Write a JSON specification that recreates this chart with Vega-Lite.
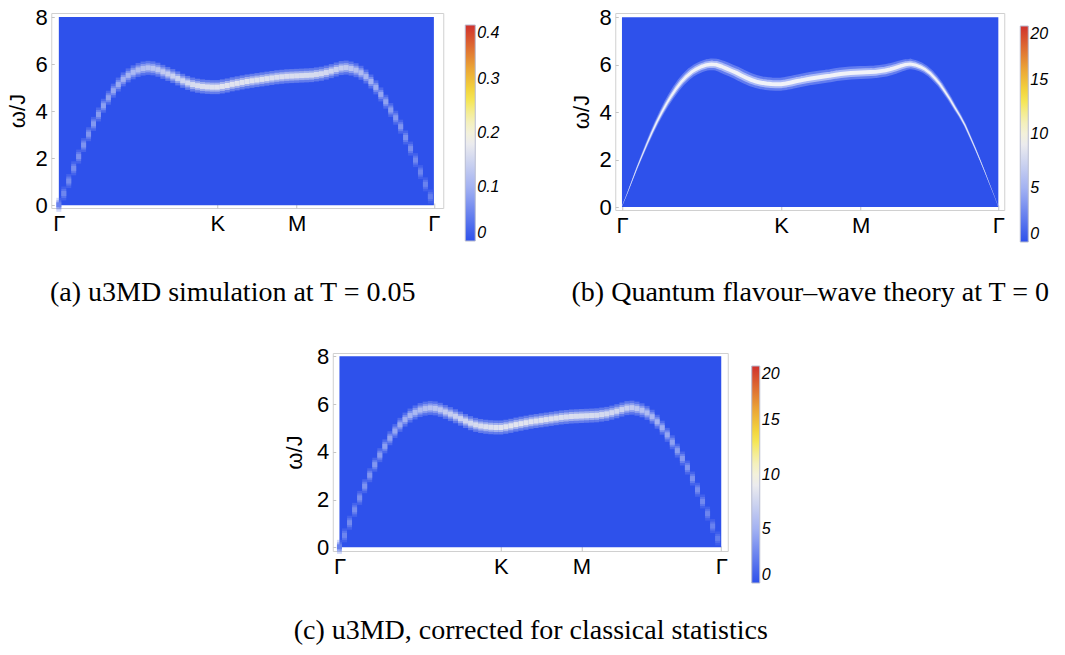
{
  "$schema": "https://vega.github.io/schema/vega-lite/v6.json",
  "padding": {"left": 5, "top": 5, "right": 0, "bottom": 0},
  "background": "white",
  "config": {
    "view": {"stroke": "#d0d0d0", "strokeWidth": 1},
    "axis": {"labelFont": "Liberation Sans", "labelFontSize": 22, "labelColor": "#000", "titleFont": "Liberation Sans", "titleFontSize": 22, "titleFontWeight": "normal", "titleColor": "#000", "tickColor": "#c4c4c4", "domain": false, "grid": false, "labelFlush": false, "labelOverlap": false},
    "axisX": {"titleFont": "Liberation Serif", "titleFontSize": 28, "titleFontWeight": "normal"},
    "legend": {"labelFont": "Liberation Sans", "labelFontStyle": "italic", "labelFontSize": 16, "labelColor": "#000", "labelOffset": 3, "gradientStrokeColor": "#b8bcd0", "gradientStrokeWidth": 1, "labelOverlap": false}
  },
  "datasets": {
    "ac": [
      {"q":0,"w":0.02,"ia":0.05,"ic":2.4},{"q":1,"w":0.50,"ia":0.055,"ic":2.7},{"q":2,"w":1.03,"ia":0.06,"ic":3.0},{"q":3,"w":1.57,"ia":0.062,"ic":3.1},
      {"q":4,"w":2.07,"ia":0.065,"ic":3.2},{"q":5,"w":2.56,"ia":0.068,"ic":3.4},{"q":6,"w":3.02,"ia":0.07,"ic":3.5},{"q":7,"w":3.46,"ia":0.073,"ic":3.6},
      {"q":8,"w":3.86,"ia":0.076,"ic":3.8},{"q":9,"w":4.23,"ia":0.08,"ic":4.0},{"q":10,"w":4.57,"ia":0.084,"ic":4.2},{"q":11,"w":4.87,"ia":0.088,"ic":4.4},
      {"q":12,"w":5.13,"ia":0.093,"ic":4.6},{"q":13,"w":5.35,"ia":0.098,"ic":4.9},{"q":14,"w":5.52,"ia":0.103,"ic":5.1},{"q":15,"w":5.65,"ia":0.108,"ic":5.4},
      {"q":16,"w":5.75,"ia":0.113,"ic":5.6},{"q":17,"w":5.81,"ia":0.118,"ic":5.9},{"q":18,"w":5.84,"ia":0.122,"ic":6.1},{"q":19,"w":5.82,"ia":0.126,"ic":6.3},
      {"q":20,"w":5.76,"ia":0.13,"ic":6.5},{"q":21,"w":5.67,"ia":0.134,"ic":6.7},{"q":22,"w":5.58,"ia":0.138,"ic":6.9},{"q":23,"w":5.49,"ia":0.142,"ic":7.1},
      {"q":24,"w":5.39,"ia":0.146,"ic":7.3},{"q":25,"w":5.29,"ia":0.15,"ic":7.5},{"q":26,"w":5.20,"ia":0.154,"ic":7.7},{"q":27,"w":5.13,"ia":0.158,"ic":7.9},
      {"q":28,"w":5.08,"ia":0.161,"ic":8.0},{"q":29,"w":5.05,"ia":0.164,"ic":8.2},{"q":30,"w":5.03,"ia":0.166,"ic":8.3},{"q":31,"w":5.02,"ia":0.168,"ic":8.4},
      {"q":32,"w":5.02,"ia":0.17,"ic":8.5},{"q":33,"w":5.05,"ia":0.17,"ic":8.5},{"q":34,"w":5.09,"ia":0.17,"ic":8.5},{"q":35,"w":5.14,"ia":0.17,"ic":8.5},
      {"q":36,"w":5.18,"ia":0.17,"ic":8.5},{"q":37,"w":5.22,"ia":0.17,"ic":8.5},{"q":38,"w":5.26,"ia":0.17,"ic":8.5},{"q":39,"w":5.29,"ia":0.169,"ic":8.4},
      {"q":40,"w":5.32,"ia":0.168,"ic":8.4},{"q":41,"w":5.35,"ia":0.167,"ic":8.3},{"q":42,"w":5.38,"ia":0.166,"ic":8.3},{"q":43,"w":5.41,"ia":0.165,"ic":8.2},
      {"q":44,"w":5.44,"ia":0.164,"ic":8.2},{"q":45,"w":5.46,"ia":0.163,"ic":8.1},{"q":46,"w":5.48,"ia":0.162,"ic":8.1},{"q":47,"w":5.49,"ia":0.161,"ic":8.0},
      {"q":48,"w":5.50,"ia":0.16,"ic":8.0},{"q":49,"w":5.51,"ia":0.159,"ic":7.9},{"q":50,"w":5.52,"ia":0.158,"ic":7.9},{"q":51,"w":5.53,"ia":0.157,"ic":7.8},
      {"q":52,"w":5.56,"ia":0.156,"ic":7.8},{"q":53,"w":5.59,"ia":0.155,"ic":7.7},{"q":54,"w":5.64,"ia":0.153,"ic":7.6},{"q":55,"w":5.70,"ia":0.15,"ic":7.5},
      {"q":56,"w":5.77,"ia":0.145,"ic":7.2},{"q":57,"w":5.83,"ia":0.14,"ic":7.0},{"q":58,"w":5.85,"ia":0.135,"ic":6.7},{"q":59,"w":5.81,"ia":0.128,"ic":6.4},
      {"q":60,"w":5.74,"ia":0.12,"ic":6.0},{"q":61,"w":5.63,"ia":0.113,"ic":5.6},{"q":62,"w":5.47,"ia":0.106,"ic":5.3},{"q":63,"w":5.26,"ia":0.1,"ic":5.0},
      {"q":64,"w":5.01,"ia":0.094,"ic":4.7},{"q":65,"w":4.71,"ia":0.088,"ic":4.4},{"q":66,"w":4.40,"ia":0.083,"ic":4.1},{"q":67,"w":4.05,"ia":0.078,"ic":3.9},
      {"q":68,"w":3.72,"ia":0.074,"ic":3.7},{"q":69,"w":3.34,"ia":0.07,"ic":3.5},{"q":70,"w":2.88,"ia":0.066,"ic":3.3},{"q":71,"w":2.41,"ia":0.062,"ic":3.1},
      {"q":72,"w":1.92,"ia":0.058,"ic":2.9},{"q":73,"w":1.41,"ia":0.054,"ic":2.7},{"q":74,"w":0.89,"ia":0.05,"ic":2.5},{"q":75,"w":0.37,"ia":0.045,"ic":2.2}
    ],
    "b": [
      {"q":0,"w":0.03,"i":1.0},{"q":1,"w":0.54,"i":1.5},{"q":2,"w":1.09,"i":2.0},{"q":3,"w":1.64,"i":2.5},{"q":4,"w":2.15,"i":3.0},{"q":5,"w":2.65,"i":3.5},
      {"q":6,"w":3.13,"i":4.0},{"q":7,"w":3.58,"i":4.5},{"q":8,"w":3.99,"i":5.0},{"q":9,"w":4.37,"i":5.5},{"q":10,"w":4.71,"i":6.0},{"q":11,"w":5.02,"i":6.4},
      {"q":12,"w":5.29,"i":6.8},{"q":13,"w":5.51,"i":7.2},{"q":14,"w":5.69,"i":7.5},{"q":15,"w":5.82,"i":7.8},{"q":16,"w":5.92,"i":8.0},{"q":17,"w":5.99,"i":8.2},
      {"q":18,"w":6.02,"i":8.4},{"q":19,"w":6.0,"i":8.5},{"q":20,"w":5.93,"i":8.6},{"q":21,"w":5.84,"i":8.7},{"q":22,"w":5.75,"i":8.7},{"q":23,"w":5.66,"i":8.8},
      {"q":24,"w":5.55,"i":8.8},{"q":25,"w":5.45,"i":8.8},{"q":26,"w":5.36,"i":8.9},{"q":27,"w":5.29,"i":8.9},{"q":28,"w":5.24,"i":8.9},{"q":29,"w":5.21,"i":9.0},
      {"q":30,"w":5.19,"i":9.0},{"q":31,"w":5.18,"i":9.0},{"q":32,"w":5.18,"i":9.0},{"q":33,"w":5.21,"i":9.0},{"q":34,"w":5.25,"i":9.0},{"q":35,"w":5.30,"i":9.0},
      {"q":36,"w":5.34,"i":9.0},{"q":37,"w":5.38,"i":9.0},{"q":38,"w":5.42,"i":9.0},{"q":39,"w":5.45,"i":9.0},{"q":40,"w":5.48,"i":9.0},{"q":41,"w":5.51,"i":9.0},
      {"q":42,"w":5.54,"i":9.0},{"q":43,"w":5.58,"i":9.0},{"q":44,"w":5.61,"i":9.0},{"q":45,"w":5.63,"i":9.0},{"q":46,"w":5.65,"i":9.0},{"q":47,"w":5.66,"i":9.0},
      {"q":48,"w":5.67,"i":9.0},{"q":49,"w":5.68,"i":8.9},{"q":50,"w":5.69,"i":8.9},{"q":51,"w":5.70,"i":8.8},{"q":52,"w":5.73,"i":8.7},{"q":53,"w":5.76,"i":8.7},
      {"q":54,"w":5.81,"i":8.6},{"q":55,"w":5.87,"i":8.4},{"q":56,"w":5.94,"i":8.2},{"q":57,"w":6.0,"i":8.0},{"q":58,"w":6.03,"i":7.8},{"q":59,"w":5.99,"i":7.5},
      {"q":60,"w":5.91,"i":7.2},{"q":61,"w":5.80,"i":6.8},{"q":62,"w":5.64,"i":6.4},{"q":63,"w":5.42,"i":6.0},{"q":64,"w":5.17,"i":5.5},{"q":65,"w":4.86,"i":5.0},
      {"q":66,"w":4.54,"i":4.6},{"q":67,"w":4.18,"i":4.2},{"q":68,"w":3.84,"i":3.8},{"q":69,"w":3.45,"i":3.4},{"q":70,"w":2.98,"i":3.0},{"q":71,"w":2.50,"i":2.6},
      {"q":72,"w":2.0,"i":2.2},{"q":73,"w":1.48,"i":1.8},{"q":74,"w":0.94,"i":1.4},{"q":75,"w":0.41,"i":1.0},{"q":75.71,"w":0.0,"i":0.8}
    ]
  },
  "spacing": 37,
  "center": true,
  "resolve": {"scale": {"color": "independent"}, "legend": {"color": "independent"}},
  "vconcat": [
    {
      "spacing": 56,
      "resolve": {"scale": {"color": "independent"}, "legend": {"color": "independent"}},
      "hconcat": [
        {
          "width": 392, "height": 195,
          "data": {"name": "ac"},
          "layer": [
            {
              "data": {"values": [{}]},
              "mark": {"type": "rect", "color": "#2e51eb"},
              "encoding": {
                "x": {"datum": 0, "type": "quantitative", "scale": {"domain": [-1.53, 77.6], "nice": false, "zero": false},
                      "axis": {"values": [0, 32, 48, 75.71], "labelExpr": "datum.value == 32 ? 'K' : datum.value == 48 ? 'M' : 'Γ'", "title": "(a) u3MD simulation at T = 0.05", "titleX": 181, "titlePadding": 44, "tickSize": -5, "labelPadding": 10}},
                "x2": {"datum": 75.71},
                "y": {"datum": 0, "type": "quantitative", "scale": {"domain": [-0.115, 8.17], "nice": false, "zero": false},
                      "axis": {"values": [0,0.5,1,1.5,2,2.5,3,3.5,4,4.5,5,5.5,6,6.5,7,7.5,8], "labelExpr": "datum.value % 2 === 0 ? datum.label : ''", "title": "ω/J", "tickSize": -3, "labelPadding": 7, "titlePadding": 6}},
                "y2": {"datum": 8}
              }
            },
            {
              "mark": {"type": "point", "filled": true, "shape": "M-0.357,-1H0.357V1H-0.357Z", "size": 196, "fillOpacity": 0.3},
              "encoding": {
                "x": {"field": "q", "type": "quantitative"},
                "y": {"field": "w", "type": "quantitative"},
                "color": {"field": "ia", "type": "quantitative",
                  "scale": {"domain": [0, 0.1, 0.188, 0.228, 0.268, 0.32, 0.4], "range": ["#2e51eb", "#a3b2f2", "#f2f1ee", "#f4f0b0", "#f5e440", "#eba536", "#d0312d"], "interpolate": "rgb"},
                  "legend": {"title": null, "orient": "right", "offset": 10, "padding": 12, "gradientLength": 216, "gradientThickness": 10, "values": [0, 0.1, 0.2, 0.3, 0.4], "labelExpr": "datum.value == 0 ? '0' : datum.label"}}
              }
            },
            {
              "mark": {"type": "point", "filled": true, "shape": "M-0.556,-1H0.556V1H-0.556Z", "size": 81, "fillOpacity": 0.5},
              "encoding": {"x": {"field": "q", "type": "quantitative"}, "y": {"field": "w", "type": "quantitative"}, "color": {"field": "ia", "type": "quantitative"}}
            },
            {
              "mark": {"type": "point", "filled": true, "shape": "square", "size": 25, "fillOpacity": 1},
              "encoding": {"x": {"field": "q", "type": "quantitative"}, "y": {"field": "w", "type": "quantitative"}, "color": {"field": "ia", "type": "quantitative"}}
            }
          ]
        },
        {
          "width": 389, "height": 197,
          "data": {"name": "b"},
          "resolve": {"scale": {"size": "independent"}},
          "layer": [
            {
              "data": {"values": [{}]},
              "mark": {"type": "rect", "color": "#2e51eb"},
              "encoding": {
                "x": {"datum": 0, "type": "quantitative", "scale": {"domain": [-1.35, 76.9], "nice": false, "zero": false},
                      "axis": {"values": [0, 32, 48, 75.71], "labelExpr": "datum.value == 32 ? 'K' : datum.value == 48 ? 'M' : 'Γ'", "title": "(b) Quantum flavour–wave theory at T = 0", "titlePadding": 42, "tickSize": -5, "labelPadding": 10}},
                "x2": {"datum": 75.71},
                "y": {"datum": 0, "type": "quantitative", "scale": {"domain": [-0.126, 8.18], "nice": false, "zero": false},
                      "axis": {"values": [0,0.5,1,1.5,2,2.5,3,3.5,4,4.5,5,5.5,6,6.5,7,7.5,8], "labelExpr": "datum.value % 2 === 0 ? datum.label : ''", "title": "ω/J", "tickSize": -3, "labelPadding": 7, "titlePadding": 6}},
                "y2": {"datum": 8}
              }
            },
            {
              "mark": {"type": "point", "filled": true, "opacity": 0},
              "encoding": {
                "x": {"field": "q", "type": "quantitative"},
                "y": {"field": "w", "type": "quantitative"},
                "color": {"field": "i", "type": "quantitative",
                  "scale": {"domain": [0, 5, 9.4, 11.4, 13.4, 16, 20], "range": ["#2e51eb", "#a3b2f2", "#f2f1ee", "#f4f0b0", "#f5e440", "#eba536", "#d0312d"], "interpolate": "rgb"},
                  "legend": {"title": null, "orient": "right", "offset": 3, "padding": 13, "gradientLength": 216, "gradientThickness": 8, "values": [0, 5, 10, 15, 20]}}
              }
            },
            {
              "mark": {"type": "trail", "color": "#ffffff", "opacity": 0.25},
              "encoding": {"x": {"field": "q", "type": "quantitative"}, "y": {"field": "w", "type": "quantitative"},
                "size": {"field": "i", "type": "quantitative", "scale": {"type": "pow", "exponent": 1.6, "domain": [0, 9], "range": [0, 13]}, "legend": null}}
            },
            {
              "mark": {"type": "trail", "color": "#ffffff", "opacity": 0.45},
              "encoding": {"x": {"field": "q", "type": "quantitative"}, "y": {"field": "w", "type": "quantitative"},
                "size": {"field": "i", "type": "quantitative", "scale": {"type": "pow", "exponent": 1.6, "domain": [0, 9], "range": [0, 8]}, "legend": null}}
            },
            {
              "mark": {"type": "trail", "color": "#f4f4f8", "opacity": 0.95},
              "encoding": {"x": {"field": "q", "type": "quantitative"}, "y": {"field": "w", "type": "quantitative"},
                "size": {"field": "i", "type": "quantitative", "scale": {"type": "pow", "exponent": 1.6, "domain": [0, 9], "range": [0, 4]}, "legend": null}}
            }
          ]
        }
      ]
    },
    {
      "width": 395, "height": 198,
      "data": {"name": "ac"},
      "layer": [
        {
          "data": {"values": [{}]},
          "mark": {"type": "rect", "color": "#2e51eb"},
          "encoding": {
            "x": {"datum": 0, "type": "quantitative", "scale": {"domain": [-1.33, 77.0], "nice": false, "zero": false},
                  "axis": {"values": [0, 32, 48, 75.71], "labelExpr": "datum.value == 32 ? 'K' : datum.value == 48 ? 'M' : 'Γ'", "title": "(c) u3MD, corrected for classical statistics", "titlePadding": 39, "tickSize": -5, "labelPadding": 10}},
            "x2": {"datum": 75.71},
            "y": {"datum": 0, "type": "quantitative", "scale": {"domain": [-0.155, 8.14], "nice": false, "zero": false},
                  "axis": {"values": [0,0.5,1,1.5,2,2.5,3,3.5,4,4.5,5,5.5,6,6.5,7,7.5,8], "labelExpr": "datum.value % 2 === 0 ? datum.label : ''", "title": "ω/J", "tickSize": -3, "labelPadding": 7, "titlePadding": 10}},
            "y2": {"datum": 8}
          }
        },
        {
          "mark": {"type": "point", "filled": true, "shape": "M-0.357,-1H0.357V1H-0.357Z", "size": 196, "fillOpacity": 0.3},
          "encoding": {
            "x": {"field": "q", "type": "quantitative"},
            "y": {"field": "w", "type": "quantitative"},
            "color": {"field": "ic", "type": "quantitative",
              "scale": {"domain": [0, 5, 9.4, 11.4, 13.4, 16, 20], "range": ["#2e51eb", "#a3b2f2", "#f2f1ee", "#f4f0b0", "#f5e440", "#eba536", "#d0312d"], "interpolate": "rgb"},
              "legend": {"title": " ", "titleFontSize": 2, "titlePadding": 11, "orient": "right", "offset": 24, "padding": 0, "gradientLength": 217, "gradientThickness": 8, "values": [0, 5, 10, 15, 20]}}
          }
        },
        {
          "mark": {"type": "point", "filled": true, "shape": "M-0.556,-1H0.556V1H-0.556Z", "size": 81, "fillOpacity": 0.5},
          "encoding": {"x": {"field": "q", "type": "quantitative"}, "y": {"field": "w", "type": "quantitative"}, "color": {"field": "ic", "type": "quantitative"}}
        },
        {
          "mark": {"type": "point", "filled": true, "shape": "square", "size": 25, "fillOpacity": 1},
          "encoding": {"x": {"field": "q", "type": "quantitative"}, "y": {"field": "w", "type": "quantitative"}, "color": {"field": "ic", "type": "quantitative"}}
        }
      ]
    }
  ]
}
